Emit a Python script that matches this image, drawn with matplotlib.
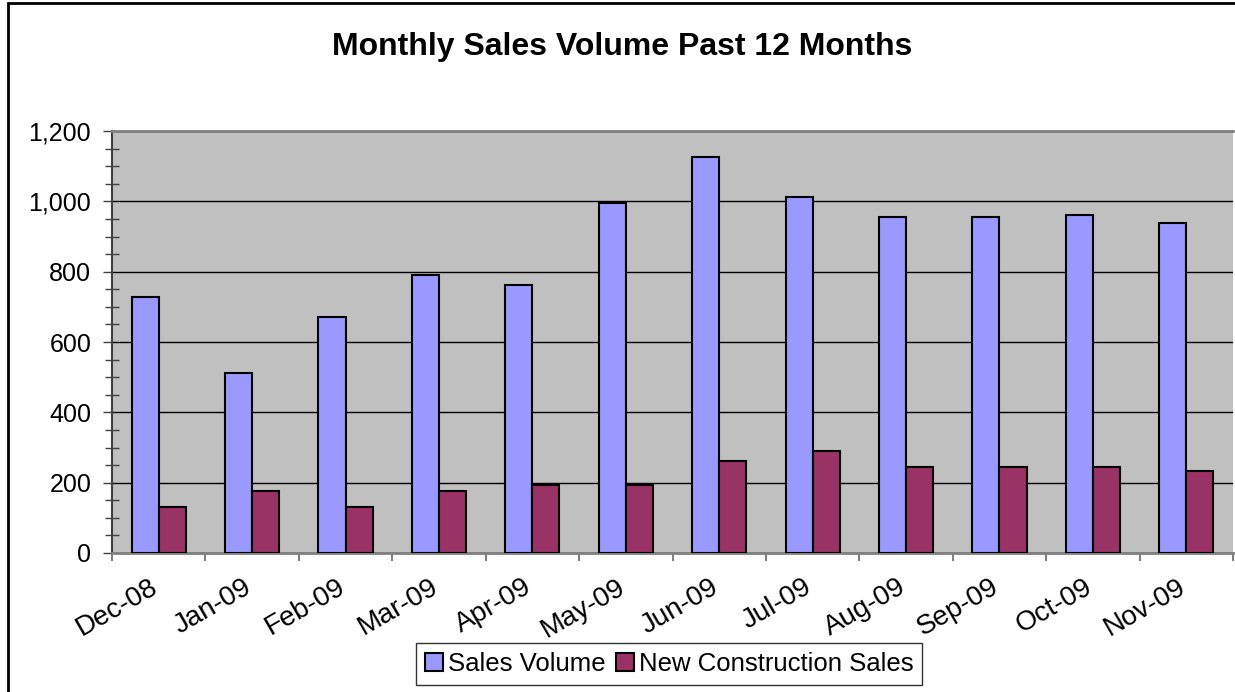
import numpy as np
import matplotlib
matplotlib.use('Agg')
import matplotlib.pyplot as plt
from matplotlib.patches import Rectangle
from matplotlib.ticker import MultipleLocator, FuncFormatter
from matplotlib.transforms import ScaledTranslation

months = ['Dec-08', 'Jan-09', 'Feb-09', 'Mar-09', 'Apr-09', 'May-09',
          'Jun-09', 'Jul-09', 'Aug-09', 'Sep-09', 'Oct-09', 'Nov-09']
sales_volume = [728, 512, 672, 791, 763, 994, 1125, 1012, 955, 955, 960, 938]
new_construction = [132, 177, 132, 177, 193, 193, 262, 290, 244, 244, 244, 233]

plt.rcParams['font.family'] = ['Liberation Sans', 'DejaVu Sans']

fig = plt.figure(figsize=(12.35, 6.92), dpi=100)
fig.patches.append(Rectangle((8 / 1235, -0.1), 1.2, 1 - 3 / 692 + 0.1,
                             transform=fig.transFigure, fill=False,
                             edgecolor='black', linewidth=2))

ax = fig.add_axes([112 / 1235, 139 / 692, 1121 / 1235, 422 / 692])
ax.set_facecolor('#C0C0C0')

x = np.arange(len(months))
w = 0.29
ax.bar(x - w / 2, sales_volume, w, color='#9999FF', edgecolor='black',
       linewidth=1.5, label='Sales Volume', zorder=3)
ax.bar(x + w / 2, new_construction, w, color='#993366', edgecolor='black',
       linewidth=1.5, label='New Construction Sales', zorder=3)

ax.set_xlim(-0.5, 11.5)
ax.set_ylim(0, 1200)

# y axis
ax.yaxis.set_major_locator(MultipleLocator(200))
ax.yaxis.set_minor_locator(MultipleLocator(50))
ax.yaxis.set_major_formatter(FuncFormatter(lambda v, p: f'{int(v):,}'))
ax.tick_params(axis='y', which='major', length=6.5, width=1, color='#404040',
               labelsize=18, pad=8.5)
ax.tick_params(axis='y', which='minor', length=9.5, width=1, color='#404040',
               direction='inout')
ax.yaxis.grid(True, which='major', color='black', linewidth=1, zorder=1)
ax.set_axisbelow(True)

# x axis: ticks at boundaries, labels at centers
ax.set_xticks(np.arange(-0.5, 12, 1))
ax.set_xticklabels([])
ax.set_xticks(x, minor=True)
ax.set_xticklabels(months, minor=True, rotation=30, ha='right',
                   rotation_mode='anchor', fontsize=20)
ax.tick_params(axis='x', which='major', length=6, width=1.5, color='#808080')
ax.tick_params(axis='x', which='minor', length=0, pad=15)
shift = ScaledTranslation(-9 / 100, 0, fig.dpi_scale_trans)
for lab in ax.get_xticklabels(minor=True):
    lab.set_transform(lab.get_transform() + shift)

for s in ['top', 'bottom']:
    ax.spines[s].set_color('#808080')
    ax.spines[s].set_linewidth(2)
ax.spines['left'].set_color('#404040')
ax.spines['left'].set_linewidth(1.5)
ax.spines['right'].set_visible(False)

fig.text(622 / 1235, 1 - 47 / 692, 'Monthly Sales Volume Past 12 Months',
         ha='center', va='center', fontsize=23, fontweight='bold')

leg = fig.legend(loc='center', bbox_to_anchor=(669 / 1235, 1 - 664 / 692),
                 ncol=2, fontsize=18.5, frameon=True, fancybox=False,
                 edgecolor='black', handlelength=0.7, handleheight=0.7,
                 handletextpad=0.2, columnspacing=0.4, borderpad=0.35,
                 borderaxespad=0)
leg.get_frame().set_linewidth(1)

fig.savefig('out.png', dpi=100)
